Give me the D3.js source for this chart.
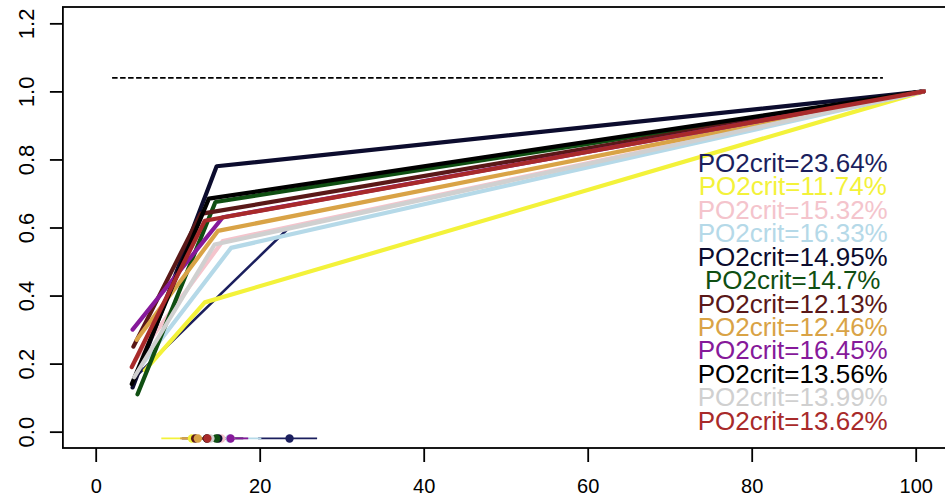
<!DOCTYPE html>
<html>
<head>
<meta charset="utf-8">
<script src="https://cdn.jsdelivr.net/npm/d3@7"></script>
<style>
  html, body { margin: 0; padding: 0; background: #fff; }
  svg { display: block; }
  text { font-family: "Liberation Sans", Arial, sans-serif; }
</style>
</head>
<body>
<svg id="chart" width="945" height="499"></svg>
<script>
// Series, in drawing order (later series are painted on top)
const seriesNames = ["s1", "s2", "s3", "s4", "s5", "s6", "s7", "s8", "s9", "s10", "s11", "s12"];
const po2crit = [23.64, 11.74, 15.32, 16.33, 14.95, 14.7, 12.13, 12.46, 16.45, 13.56, 13.99, 13.62];
const colors = ["#1b1f5e", "#f3f23a", "#f4c4cc", "#b5d9e8", "#0c0c2e", "#0f4f12",
                "#5a1818", "#d9a346", "#86199a", "#000000", "#d0d0d0", "#a82a2a"];

// Broken-stick fits: start, breakpoint and end of each curve
const startX = [4.8, 6.0, 4.8, 5.4, 4.5, 5.1, 4.6, 5.0, 4.5, 4.4, 4.7, 4.4];
const startY = [0.16, 0.18, 0.21, 0.19, 0.13, 0.11, 0.25, 0.27, 0.30, 0.14, 0.16, 0.19];
const breakX = [23.6, 13.3, 15.5, 16.5, 14.75, 14.6, 12.8, 14.9, 15.5, 13.8, 14.5, 13.3];
const breakY = [0.60, 0.38, 0.56, 0.54, 0.78, 0.675, 0.64, 0.59, 0.63, 0.685, 0.55, 0.62];
const endX = [101, 101, 101, 101, 101, 101, 101, 101, 101, 101, 101, 101];
const endY = [1.0, 1.0, 1.0, 1.0, 1.0, 1.0, 1.0, 1.0, 1.0, 1.0, 1.0, 1.0];

// Confidence intervals of PO2crit
const ciLow  = [19.8, 8.0, 12.5, 13.5, 12.0, 12.5, 10.5, 10.3, 14.5, 11.5, 11.5, 11.8];
const ciHigh = [27.0, 15.0, 18.5, 20.2, 18.0, 17.0, 14.0, 14.5, 18.6, 15.5, 17.0, 15.5];

// Reference level and its extent
const refLevel = 1.04;
const refFrom = 2;
const refTo = 96;
const ciLevel = -0.02;

const xTicks = [0, 20, 40, 60, 80, 100];
const yTicks = [0, 0.2, 0.4, 0.6, 0.8, 1.0, 1.2];

const svg = d3.select("#chart");

const x = d3.scaleLinear().domain([-4, 104]).range([62.9, 948.5]);
const y = d3.scaleLinear().domain([-0.048, 1.248]).range([448, 7]);

// Curves
const line = d3.line().x(d => x(d[0])).y(d => y(d[1]));
const curves = svg.append("g");
seriesNames.forEach((name, i) => {
  const pts = [[startX[i], startY[i]], [breakX[i], breakY[i]], [endX[i], endY[i]]];
  curves.append("path")
    .attr("d", line(pts))
    .attr("fill", "none")
    .attr("stroke", colors[i])
    .attr("stroke-width", i === 0 ? 2.6 : 4.2)
    .attr("stroke-linejoin", "round")
    .attr("stroke-linecap", "round");
});

// Dashed reference line
svg.append("line")
  .attr("x1", x(refFrom)).attr("x2", x(refTo))
  .attr("y1", y(refLevel)).attr("y2", y(refLevel))
  .attr("stroke", "#000").attr("stroke-width", 1.8)
  .attr("stroke-dasharray", "5.5,2.5");

// PO2crit estimates with confidence intervals
const ci = svg.append("g");
seriesNames.forEach((name, i) => {
  ci.append("line")
    .attr("x1", x(ciLow[i])).attr("x2", x(ciHigh[i]))
    .attr("y1", y(ciLevel)).attr("y2", y(ciLevel))
    .attr("stroke", colors[i]).attr("stroke-width", 1.8);
});
seriesNames.forEach((name, i) => {
  ci.append("circle")
    .attr("cx", x(po2crit[i])).attr("cy", y(ciLevel))
    .attr("r", 4.2)
    .attr("fill", colors[i]);
});

// Labels
const labels = svg.append("g");
seriesNames.forEach((name, i) => {
  labels.append("text")
    .attr("x", x(85))
    .attr("y", 171.7 + i * 23.47)
    .attr("text-anchor", "middle")
    .attr("font-size", 26)
    .attr("fill", colors[i])
    .text("PO2crit=" + po2crit[i] + "%");
});

// Axes
const xAxis = svg.append("g")
  .attr("transform", `translate(0,${448})`)
  .call(d3.axisBottom(x).tickValues(xTicks).tickSize(14).tickSizeOuter(0).tickPadding(17)
        .tickFormat(d3.format("d")));
xAxis.select(".domain").remove();
xAxis.selectAll(".tick line").attr("stroke", "#000").attr("stroke-width", 1.8);
xAxis.selectAll(".tick text").attr("font-size", 20).attr("fill", "#000")
  .attr("font-family", "'Liberation Sans', Arial, sans-serif");

const yAxis = svg.append("g")
  .attr("transform", `translate(${62.9},0)`)
  .call(d3.axisLeft(y).tickValues(yTicks).tickSize(13).tickSizeOuter(0)
        .tickFormat(d3.format(".1f")));
yAxis.select(".domain").remove();
yAxis.selectAll(".tick line").attr("stroke", "#000").attr("stroke-width", 1.8);
yAxis.selectAll(".tick text")
  .attr("x", null).attr("dy", null)
  .attr("text-anchor", "middle")
  .attr("font-size", 22).attr("fill", "#000")
  .attr("font-family", "'Liberation Sans', Arial, sans-serif")
  .attr("transform", "translate(-28.5,0) rotate(-90)");

// Plot frame
svg.append("rect")
  .attr("x", 62.9).attr("y", 7)
  .attr("width", 948.5 - 62.9).attr("height", 448 - 7)
  .attr("fill", "none").attr("stroke", "#000").attr("stroke-width", 1.8);
</script>
</body>
</html>
